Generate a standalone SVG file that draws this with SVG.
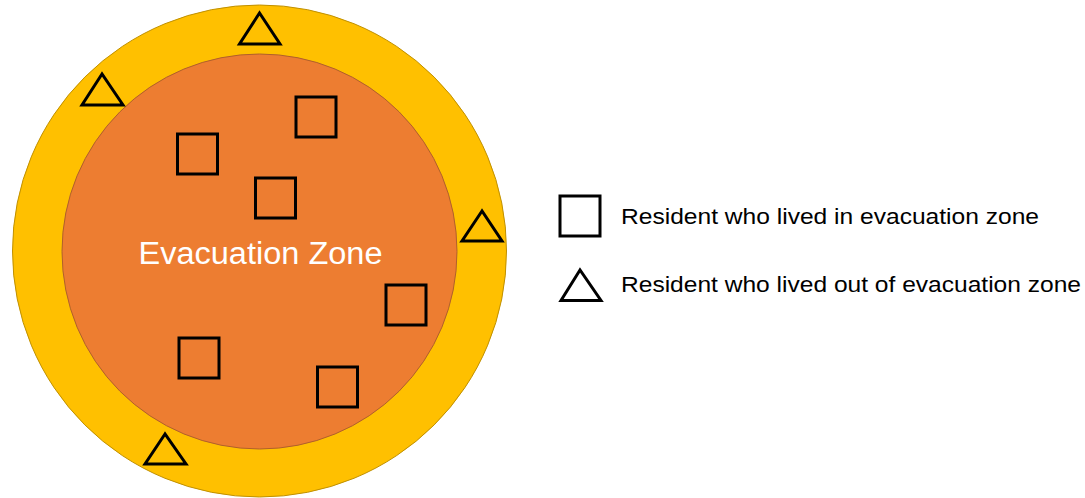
<svg xmlns="http://www.w3.org/2000/svg" width="1085" height="498" viewBox="0 0 1085 498">
<style>
.sym{fill:none;stroke:#000;stroke-width:3;stroke-linejoin:miter}
.leg{font-family:"Liberation Sans",Arial,sans-serif;font-size:22px;fill:#000}
.zone{font-family:"Liberation Sans",Arial,sans-serif;font-size:31px;fill:#fff}
</style>
<rect width="1085" height="498" fill="#fff"/>
<g id="outer-area">
<ellipse cx="259.5" cy="251" rx="247" ry="246" fill="#FFC000" stroke="#C09000" stroke-width="1"/>
</g>
<g id="evacuation-zone">
<circle cx="259.5" cy="251.5" r="197.5" fill="#ED7D31" stroke="#B0602A" stroke-width="1"/>
<text class="zone" x="138.5" y="264" textLength="244" lengthAdjust="spacingAndGlyphs">Evacuation Zone</text>
</g>
<g id="residents-in">
<rect class="sym" x="296" y="97" width="40" height="40"/>
<rect class="sym" x="177.5" y="134" width="40" height="40"/>
<rect class="sym" x="255.5" y="178" width="40" height="40"/>
<rect class="sym" x="386" y="285" width="40" height="40"/>
<rect class="sym" x="179" y="338" width="40" height="40"/>
<rect class="sym" x="317.5" y="367" width="40" height="40"/>
</g>
<g id="residents-out">
<polygon class="sym" points="259.5,13 239.5,44 280,44"/>
<polygon class="sym" points="102,74 82,105 123,105"/>
<polygon class="sym" points="482,211 462,241 502,241"/>
<polygon class="sym" points="165,434 145,464 186,464"/>
</g>
<g id="legend-in">
<rect class="sym" x="560" y="196" width="40" height="40"/>
<text class="leg" x="621" y="224" textLength="418" lengthAdjust="spacingAndGlyphs">Resident who lived in evacuation zone</text>
</g>
<g id="legend-out">
<polygon class="sym" points="580,270 561,300.5 601,300.5"/>
<text class="leg" x="621" y="292" textLength="460" lengthAdjust="spacingAndGlyphs">Resident who lived out of evacuation zone</text>
</g>
<g id="connectors"></g>
</svg>
